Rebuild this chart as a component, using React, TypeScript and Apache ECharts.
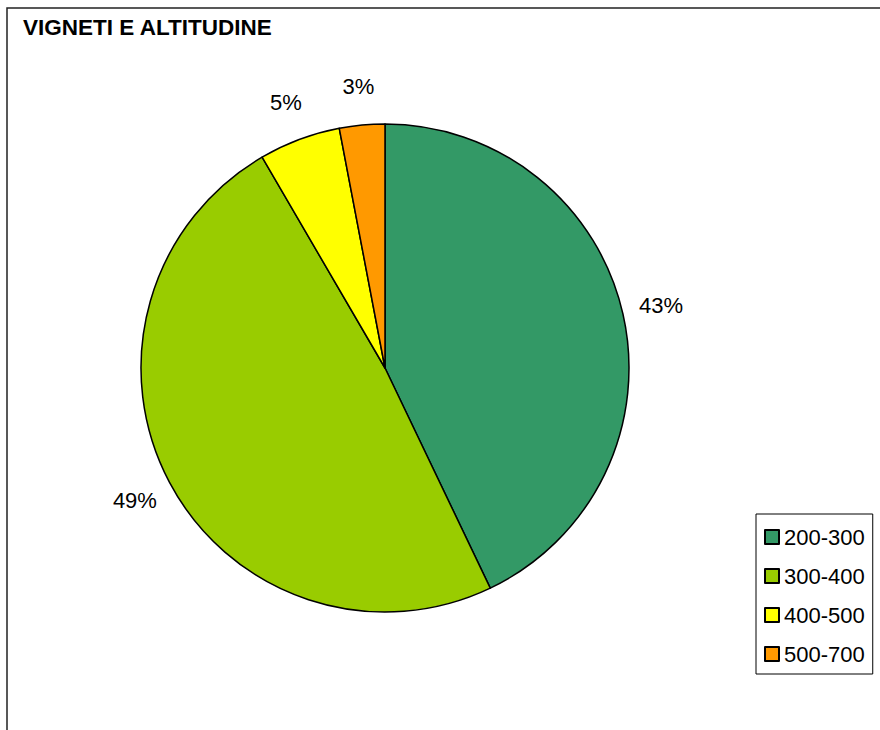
import React, { useEffect, useRef } from "react";
import * as echarts from "echarts";

const categories = ["200-300", "300-400", "400-500", "500-700"];
const values = [42.9, 48.7, 5.4, 3.0];
const colors = ["#339966", "#99CC00", "#FFFF00", "#FF9900"];
const titleText = "VIGNETI E ALTITUDINE";

const FONT = "'Liberation Sans', Arial, sans-serif";

export default function App() {
  const ref = useRef<HTMLDivElement>(null);
  useEffect(() => {
    if (!ref.current) return;
    const chart = echarts.init(ref.current, undefined, { renderer: "svg" });
    const data = categories.map((name, i) => ({
      name,
      value: values[i],
      itemStyle: { color: colors[i] },
    }));
    chart.setOption({
      animation: false,
      backgroundColor: "#ffffff",
      title: {
        text: titleText,
        left: 23,
        top: 16,
        padding: 0,
        textStyle: { fontFamily: FONT, fontSize: 22.5, fontWeight: "bold", color: "#000" },
      },
      legend: {
        orient: "vertical",
        left: 756,
        top: 514,
        padding: [12, 8, 9, 8],
        itemGap: 17,
        itemWidth: 14,
        itemHeight: 14,
        icon: "rect",
        borderColor: "#000",
        borderWidth: 1,
        backgroundColor: "#fff",
        data: categories,
        itemStyle: { borderColor: "#000", borderWidth: 2 },
        textStyle: { fontFamily: FONT, fontSize: 22, color: "#000" },
      },
      graphic: [
        {
          type: "rect",
          shape: { x: 7, y: 8, width: 1000, height: 1000 },
          style: { fill: "none", stroke: "#222", lineWidth: 1.5 },
          silent: true,
        },
      ],
      series: [
        {
          type: "pie",
          center: [385, 368],
          radius: [0, 244],
          startAngle: 90,
          clockwise: true,
          data,
          label: { show: false },
          labelLine: { show: false },
          itemStyle: { borderColor: "#000", borderWidth: 1.5 },
          emphasis: { disabled: true },
        },
        {
          type: "pie",
          center: [385, 368],
          radius: [272, 288],
          startAngle: 90,
          clockwise: true,
          silent: true,
          legendHoverLink: false,
          percentPrecision: 0,
          data: categories.map((name, i) => ({
            name,
            value: values[i],
            itemStyle: { color: "rgba(0,0,0,0)", borderWidth: 0 },
          })),
          label: {
            show: true,
            position: "inside",
            formatter: "{d}%",
            fontFamily: FONT,
            fontSize: 22,
            color: "#000",
          },
          labelLine: { show: false },
          emphasis: { disabled: true },
        },
      ],
    });
    return () => chart.dispose();
  }, []);
  return (
    <div
      ref={ref}
      style={{ position: "fixed", left: 0, top: 0, width: 880, height: 730 }}
    />
  );
}
